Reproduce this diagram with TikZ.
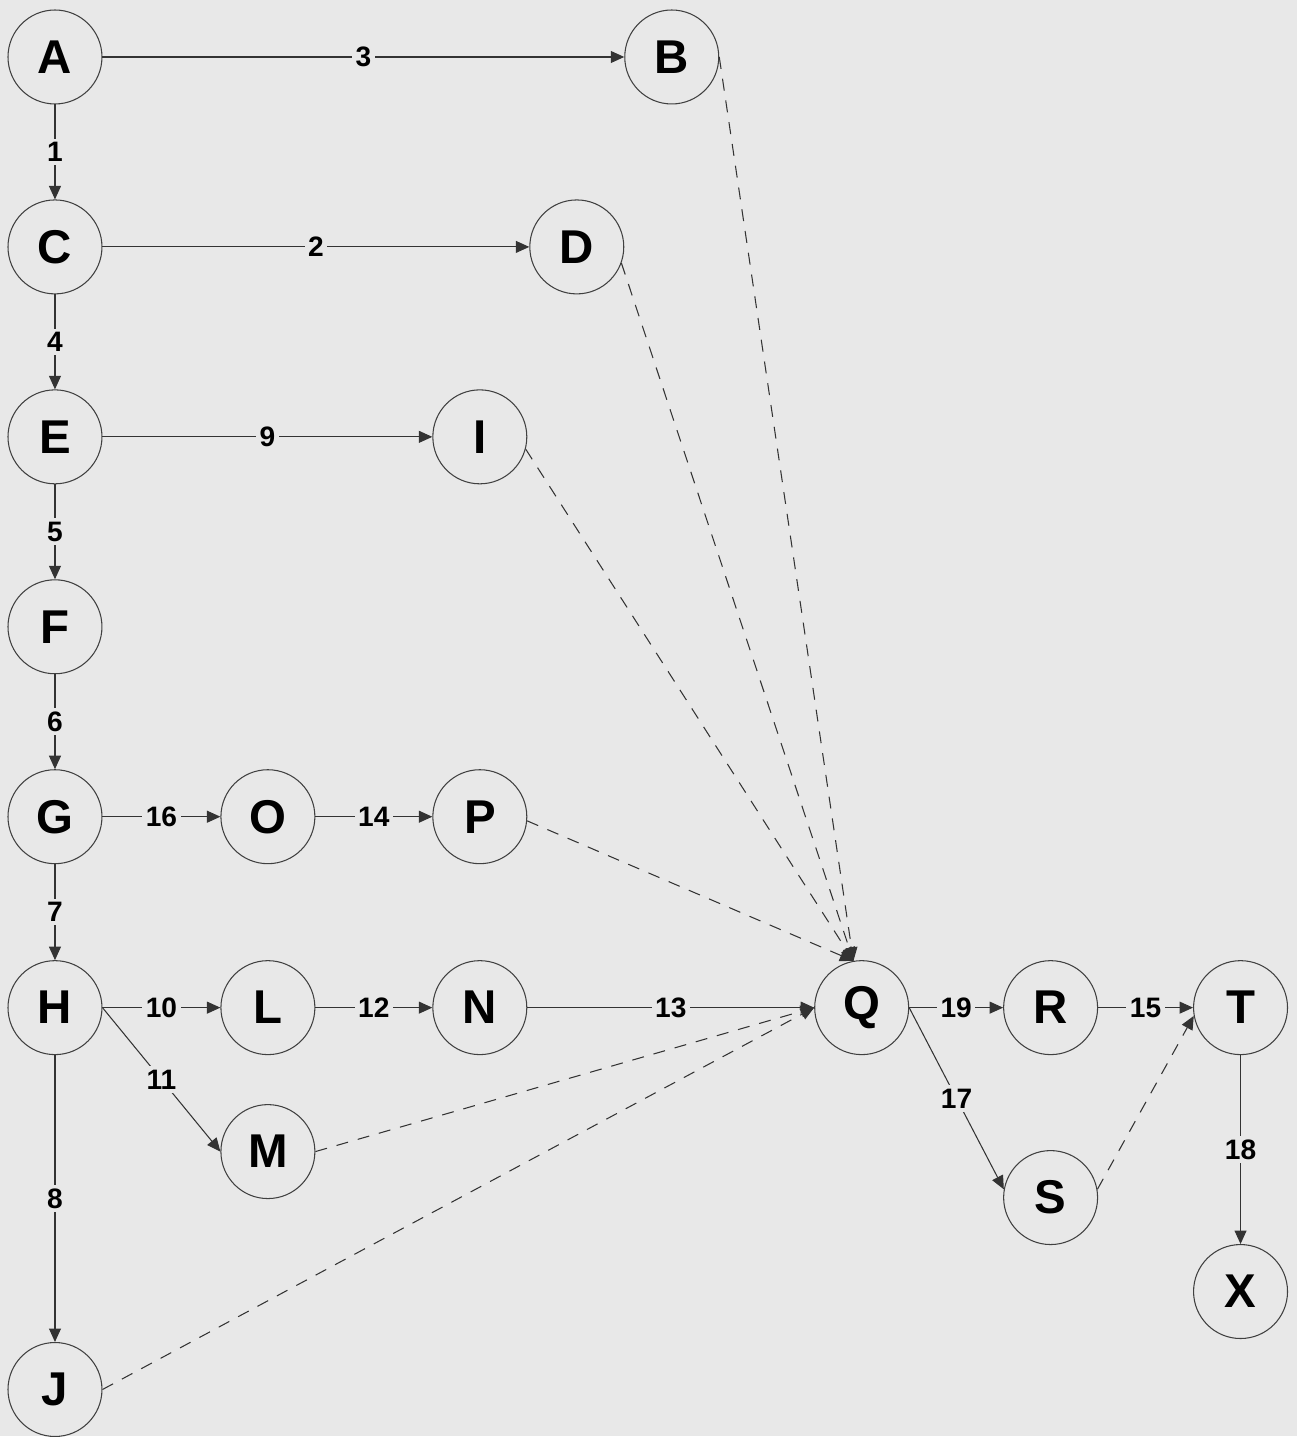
\documentclass[tikz,border=0pt]{standalone}
\usepackage{fontspec}
\setmainfont{Liberation Sans}
\usetikzlibrary{arrows.meta,positioning}
\definecolor{paper}{RGB}{232,232,232}

\begin{document}
\begin{tikzpicture}[on grid, node distance=3.8cm, state/.style={draw=black!75, circle, line width=0.6pt, minimum size=1.88cm, inner sep=0pt, font=\fontsize{27}{27}\selectfont\bfseries}, arr/.style={-{Triangle[length=0.27cm, width=0.24cm]}, draw=black!80, line width=0.6pt}, dsh/.style={arr, dash pattern=on 0.24cm off 0.2cm}, lbl/.style={fill=paper, inner sep=2pt, font=\fontsize{16}{17}\selectfont\bfseries}]
    \fill[paper] (-1.1,1.14) rectangle (24.84,-27.6);
    \node[state] (a) {A};
    \node[state, right=12.34cm of a] (b) {B};
    \node[state, below=of a] (c) {C};
    \node[state, right=10.44cm of c] (d) {D};
    \node[state, below=of c] (e) {E};
    \node[state, right=8.5cm of e] (i) {I};
    \node[state, below=of e] (f) {F};
    \node[state, below=of f] (g) {G};
    \node[state, right=4.26cm of g] (o) {O};
    \node[state, right=4.24cm of o] (p) {P};
    \node[state, below=3.82cm of g] (h) {H};
    \node[state, right=4.26cm of h] (l) {L};
    \node[state, right=4.24cm of l] (n) {N};
    \node[state, right=7.64cm of n] (q) {Q};
    \node[state, right=3.78cm of q] (r) {R};
    \node[state, right=3.8cm of r] (t) {T};
    \node[state, below=2.88cm of l] (m) {M};
    \node[state, below=of r] (s) {S};
    \node[state, below=5.68cm of t] (x) {X};
    \node[state, below=7.64cm of h] (j) {J};
    \draw[arr] (a) -- node[lbl] {3} (b);
    \draw[arr] (a) -- node[lbl] {1} (c);
    \draw[arr] (c) -- node[lbl] {2} (d);
    \draw[arr] (c) -- node[lbl] {4} (e);
    \draw[arr] (e) -- node[lbl] {9} (i);
    \draw[arr] (e) -- node[lbl] {5} (f);
    \draw[arr] (f) -- node[lbl] {6} (g);
    \draw[arr] (g) -- node[lbl] {16} (o);
    \draw[arr] (o) -- node[lbl] {14} (p);
    \draw[arr] (g) -- node[lbl] {7} (h);
    \draw[arr] (h) -- node[lbl] {10} (l);
    \draw[arr] (l) -- node[lbl] {12} (n);
    \draw[arr] (n) -- node[lbl] {13} (q);
    \draw[arr] (h.east) -- node[lbl] {11} (m.west);
    \draw[arr] (h) -- node[lbl] {8} (j);
    \draw[arr] (q) -- node[lbl] {19} (r);
    \draw[arr] (r) -- node[lbl] {15} (t);
    \draw[arr] (q.east) -- node[lbl] {17} (s.170);
    \draw[arr] (t) -- node[lbl] {18} (x);
    \draw[dsh] (b.east) -- (q.100);
    \draw[dsh] (d.-20) -- (q.100);
    \draw[dsh] (i.-15) -- (q.100);
    \draw[dsh] (p.-5) -- (q.100);
    \draw[dsh] (m.east) -- (q.west);
    \draw[dsh] (j.east) -- (q.west);
    \draw[dsh] (s.10) -- (t.190);
  \end{tikzpicture}
\end{document}
